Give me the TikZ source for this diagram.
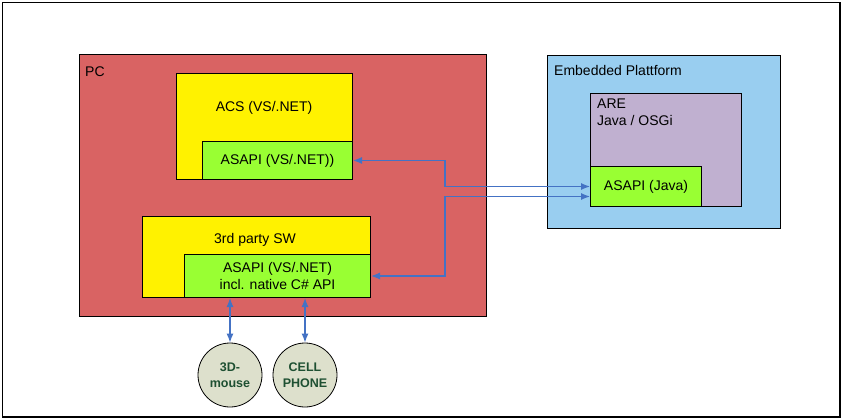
\documentclass[tikz,border=0pt]{standalone}
\usepackage{fontspec}
\setmainfont{Liberation Sans}
\usetikzlibrary{positioning,arrows.meta}

\definecolor{pcred}{RGB}{217,99,99}
\definecolor{apigreen}{RGB}{153,255,51}
\definecolor{embblue}{RGB}{153,206,240}
\definecolor{arepurple}{RGB}{192,176,208}
\definecolor{devfill}{RGB}{221,224,204}
\definecolor{devtext}{RGB}{30,80,50}
\definecolor{linkblue}{RGB}{68,114,196}

\tikzset{
  box/.style={draw=black, line width=1pt, anchor=north west, inner sep=0pt},
  lbl/.style={anchor=west, inner sep=0pt, font=\fontsize{14}{17}\selectfont, align=left},
  txt/.style={font=\fontsize{14}{17}\selectfont, align=center},
  device/.style={circle, draw=black, line width=0.8pt, fill=devfill, minimum size=64pt, inner sep=0pt,
    text=devtext, align=center, font=\fontsize{12.5}{16}\selectfont\bfseries},
  link/.style={{Latex[length=9pt,width=7pt]}-{Latex[length=9pt,width=7pt]}, draw=linkblue, line width=1.2pt}
}

\begin{document}
\begin{tikzpicture}[x=1pt,y=-1pt]
    \useasboundingbox (0,0) rectangle (842,419);
    \draw[line width=1.2pt] (2.5,2.5) rectangle (840,417);

    % PC side
    \node[box, fill=pcred, minimum width=407pt, minimum height=262pt] (pc) at (79,54) {};
    \node[lbl] (pclbl) at (85,72) {PC};

    \node[box, fill=yellow, minimum width=176pt, minimum height=106pt] (acs) at (176,73) {};
    \node[txt] (acslbl) at (264,108) {ACS (VS/.NET)};
    \node[box, fill=apigreen, minimum width=150pt, minimum height=38pt, txt] (acsapi) at (202,141) {ASAPI (VS/.NET))};

    \node[box, fill=yellow, minimum width=228pt, minimum height=81pt] (third) at (142,216) {};
    \node[txt] (thirdlbl) at (255,240) {3rd party SW};
    \node[box, fill=apigreen, minimum width=186pt, minimum height=43pt, txt] (thirdapi) at (184,254)
        {ASAPI (VS/.NET)\\incl. native C\# API};

    % embedded side
    \node[box, fill=embblue, minimum width=233pt, minimum height=173pt] (emb) at (547,55) {};
    \node[lbl] (emblbl) at (554,70) {Embedded Plattform};

    \node[box, fill=arepurple, minimum width=151pt, minimum height=113pt] (are) at (590,93) {};
    \node[lbl, anchor=north west] (arelbl) at (597,99) {ARE\\Java / OSGi};
    \node[box, fill=apigreen, minimum width=111pt, minimum height=40pt, txt] (javaapi) at (590,166) {ASAPI (Java)};

    % devices
    \node[device] (mouse) at (230,375) {3D-\\mouse};
    \node[device] (phone) at (305,375) {CELL\\PHONE};

    % connections
    \coordinate (bus) at (445,0);
    \draw[link] (acsapi.east) -- (acsapi.east -| bus) |- (javaapi.west);
    \draw[link] (thirdapi.east) -- (thirdapi.east -| bus) |- ([yshift=-10pt]javaapi.west);
    \draw[link] (thirdapi.south -| mouse) -- (mouse.north);
    \draw[link] (thirdapi.south -| phone) -- (phone.north);
\end{tikzpicture}
\end{document}
